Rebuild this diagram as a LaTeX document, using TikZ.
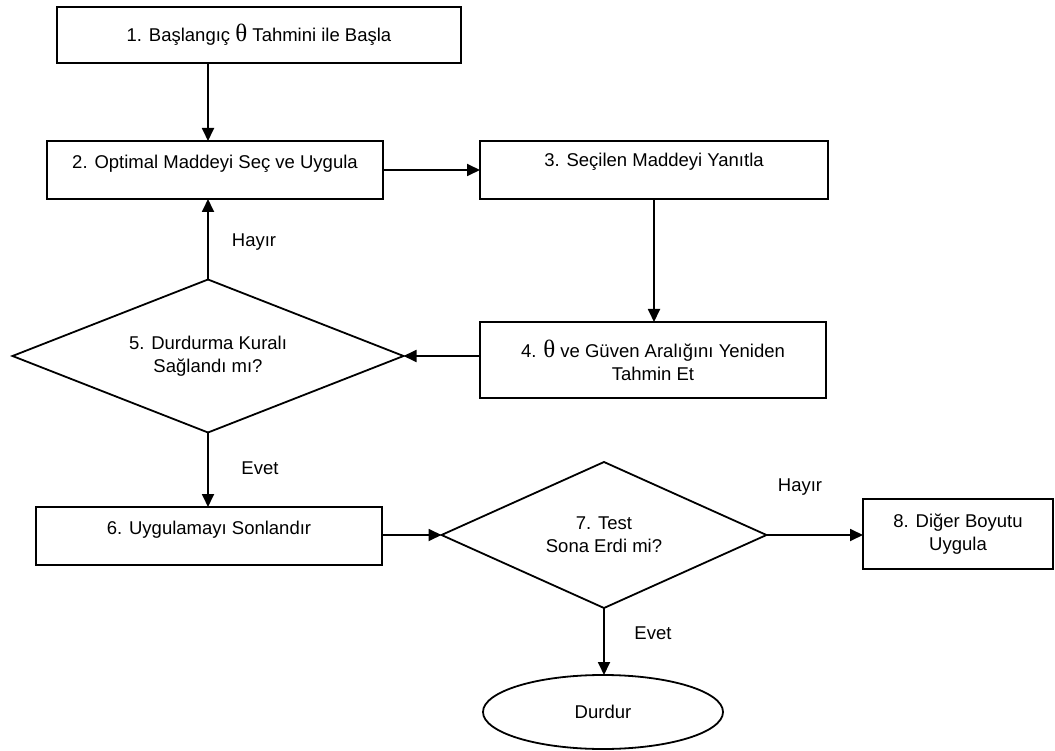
\documentclass[tikz,border=0pt]{standalone}
\usepackage{fontspec}
\setmainfont{Liberation Sans}
\newfontfamily\thfont{Liberation Serif}
\usetikzlibrary{shapes.geometric,arrows.meta}
\newcommand{\thetasym}{{\thfont\fontsize{25}{24}\selectfont θ}}
\begin{document}
\begin{tikzpicture}[x=1pt,y=-1pt,
  every node/.style={font=\fontsize{18.5}{23}\selectfont, inner sep=0pt, outer sep=0pt},
  box/.style={draw, line width=1.8pt, rectangle},
  uptext/.style={text height=13pt, text depth=16pt},
  dec/.style={draw, line width=1.8pt, diamond, aspect=2.5, align=center},
  conn/.style={line width=1.8pt, -{Triangle[length=13pt,width=12pt]}}]
\useasboundingbox (0,0) rectangle (1055,751);

\node[box, minimum width=404pt, minimum height=56pt] (b1) at (259,35) {1. Başlangıç \thetasym{} Tahmini ile Başla};
\node[box, uptext, minimum width=336pt, minimum height=58pt] (b2) at (215,170) {2. Optimal Maddeyi Seç ve Uygula};
\node[box, uptext, text depth=20pt, minimum width=348pt, minimum height=58pt] (b3) at (654,170) {3. Seçilen Maddeyi Yanıtla};
\node[box, align=center, minimum width=346pt, minimum height=76pt] (b4) at (653,360) {4. \thetasym{} ve Güven Aralığını Yeniden\\Tahmin Et};
\node[dec, minimum width=391pt, minimum height=153pt] (d5) at (208,356) {5. Durdurma Kuralı\\Sağlandı mı?};
\node[box, uptext, minimum width=346pt, minimum height=58pt] (b6) at (209,536) {6. Uygulamayı Sonlandır};
\node[dec, minimum width=325pt, minimum height=146pt] (d7) at (604,535) {7. Test\\Sona Erdi mi?};
\node[box, align=center, minimum width=190pt, minimum height=70pt] (b8) at (958,534) {8. Diğer Boyutu\\Uygula};
\node[draw, line width=1.8pt, ellipse, minimum width=240pt, minimum height=74pt] (e) at (603,712) {Durdur};

\node (l1) at (254,242) {Hayır};
\node (l2) at (260,468) {Evet};
\node (l3) at (800,487) {Hayır};
\node (l4) at (653,633) {Evet};

\draw[conn] (b1.south -| d5.north) -- (d5.north |- b2.north);
\draw[conn] (b2.east) -- (b3.west);
\draw[conn] (b3.south) -- (b3.south |- b4.north);
\draw[conn] (b4.west |- d5.east) -- (d5.east);
\draw[conn] (d5.north) -- (d5.north |- b2.south);
\draw[conn] (d5.south) -- (d5.south |- b6.north);
\draw[conn] (b6.east |- d7.west) -- (d7.west);
\draw[conn] (d7.east) -- (d7.east -| b8.west);
\draw[conn] (d7.south) -- (d7.south |- e.north);
\end{tikzpicture}
\end{document}
